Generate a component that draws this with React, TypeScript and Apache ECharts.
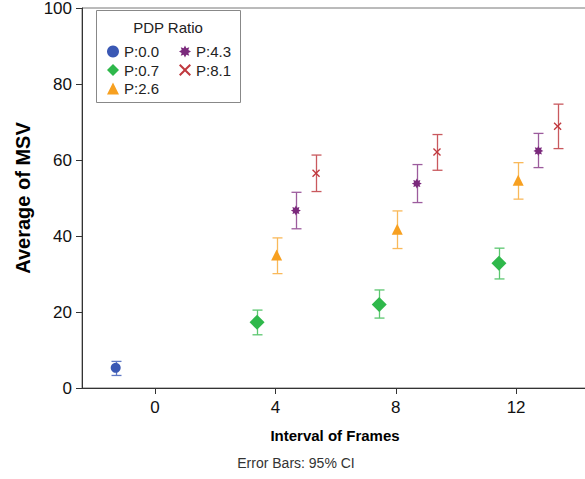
import React, { useEffect, useRef } from "react";
import * as echarts from "echarts";

// [x, mean, lower CI, upper CI]
const p00: number[][] = [[-1.31, 5.3, 3.3, 7.0]];
const p07: number[][] = [
  [3.39, 17.3, 14.0, 20.5],
  [7.45, 22.0, 18.4, 25.8],
  [11.43, 32.8, 28.7, 36.8],
];
const p26: number[][] = [
  [4.04, 35.0, 30.1, 39.5],
  [8.05, 41.8, 36.7, 46.6],
  [12.07, 54.7, 49.7, 59.3],
];
const p43: number[][] = [
  [4.68, 46.7, 41.9, 51.5],
  [8.7, 53.8, 48.8, 58.8],
  [12.74, 62.4, 58.0, 67.0],
];
const p81: number[][] = [
  [5.35, 56.5, 51.7, 61.3],
  [9.37, 62.1, 57.3, 66.7],
  [13.38, 68.9, 63.0, 74.7],
];
const xTicks = [0, 4, 8, 12];
const yMin = 0;
const yMax = 100;
const yStep = 20;
const xMin = -2.43;
const xMax = 14.39;

const STAR =
  "path://M20,10 L15.54,12.30 L17.07,17.07 L12.30,15.54 L10,20 L7.70,15.54 L2.93,17.07 L4.46,12.30 L0,10 L4.46,7.70 L2.93,2.93 L7.70,4.46 L10,0 L12.30,4.46 L17.07,2.93 L15.54,7.70 Z";
const CROSS =
  "path://M0,1.2L1.2,0L5,3.8L8.8,0L10,1.2L6.2,5L10,8.8L8.8,10L5,6.2L1.2,10L0,8.8L3.8,5Z";

const groups = [
  { name: "P:0.0", data: p00, color: "#3a58b4", bar: "#5f78c4", symbol: "circle", size: 10 },
  { name: "P:0.7", data: p07, color: "#2fb84b", bar: "#5cc770", symbol: "diamond", size: 15 },
  { name: "P:2.6", data: p26, color: "#f7a020", bar: "#f9b95a", symbol: "triangle", size: 11 },
  { name: "P:4.3", data: p43, color: "#7b2a7c", bar: "#9c5c9d", symbol: STAR, size: 10 },
  { name: "P:8.1", data: p81, color: "#c0393f", bar: "#c9595e", symbol: CROSS, size: 8 },
];

const FONT = "Arial, 'Liberation Sans', sans-serif";

export default function App() {
  const ref = useRef<HTMLDivElement>(null);
  useEffect(() => {
    if (!ref.current) return;
    const chart = echarts.init(ref.current, undefined, { renderer: "svg" });
    const series: any[] = [];
    groups.forEach((g) => {
      series.push({
        type: "custom",
        name: g.name + " CI",
        data: g.data.map((d) => [d[0], d[2], d[3]]),
        encode: { x: 0, y: [1, 2] },
        z: 2,
        renderItem: (params: any, api: any) => {
          const lo = api.coord([api.value(0), api.value(1)]);
          const hi = api.coord([api.value(0), api.value(2)]);
          const x = Math.round(lo[0]) + 0.5;
          const cap = 5;
          const style = { stroke: g.bar, lineWidth: 1.3 };
          return {
            type: "group",
            children: [
              { type: "line", shape: { x1: x, y1: lo[1], x2: x, y2: hi[1] }, style },
              { type: "line", shape: { x1: x - cap, y1: lo[1], x2: x + cap, y2: lo[1] }, style },
              { type: "line", shape: { x1: x - cap, y1: hi[1], x2: x + cap, y2: hi[1] }, style },
            ],
          };
        },
      });
      series.push({
        type: "scatter",
        name: g.name,
        data: g.data.map((d) => [d[0], d[1]]),
        symbol: g.symbol,
        symbolSize: g.size,
        itemStyle: { color: g.color, opacity: 1 },
        z: 3,
      });
    });
    const legendCommon = {
      orient: "vertical",
      padding: 0,
      itemWidth: 12,
      itemHeight: 12,
      itemGap: 3.5,
      z: 20,
      textStyle: { fontSize: 15, fontFamily: FONT, color: "#222" },
      selectedMode: false,
    };
    chart.setOption({
      animation: false,
      grid: {
        left: 82,
        width: 506,
        top: 8,
        bottom: 91,
        show: true,
        borderColor: "#777",
        borderWidth: 1,
        outerBoundsMode: "none",
        containLabel: false,
      },
      xAxis: {
        type: "value",
        min: xMin,
        max: xMax,
        name: "Interval of Frames",
        nameLocation: "middle",
        nameGap: 40,
        nameTextStyle: { fontSize: 15, fontWeight: "bold", fontFamily: FONT, color: "#000" },
        axisLine: { show: true, onZero: false, lineStyle: { color: "#333", width: 1 } },
        axisTick: { show: true, length: 6, lineStyle: { color: "#333" }, customValues: xTicks },
        axisLabel: { fontSize: 17, fontFamily: FONT, color: "#111", margin: 11, customValues: xTicks },
        splitLine: { show: false },
      },
      yAxis: {
        type: "value",
        min: yMin,
        max: yMax,
        interval: yStep,
        name: "Average of MSV",
        nameLocation: "middle",
        nameGap: 46,
        nameTextStyle: { fontSize: 20, fontWeight: "bold", fontFamily: FONT, color: "#000" },
        axisLine: { show: true, onZero: false, lineStyle: { color: "#333", width: 1 } },
        axisTick: { show: true, length: 6, lineStyle: { color: "#333" } },
        axisLabel: { fontSize: 17, lineHeight: 14, fontFamily: FONT, color: "#111", margin: 10 },
        splitLine: { show: false },
      },
      legend: [
        { ...legendCommon, data: ["P:0.0", "P:0.7", "P:2.6"], left: 107, top: 44 },
        { ...legendCommon, data: ["P:4.3", "P:8.1"], left: 179, top: 44 },
      ],
      graphic: [
        {
          type: "rect",
          shape: { x: 96.5, y: 10.5, width: 144, height: 92 },
          style: { fill: "none", stroke: "#888", lineWidth: 1 },
        },
        {
          type: "text",
          x: 168,
          y: 27,
          style: {
            text: "PDP Ratio",
            fontSize: 15,
            fontFamily: FONT,
            fill: "#222",
            align: "center",
            verticalAlign: "middle",
          },
        },
        {
          type: "text",
          x: 296,
          y: 463,
          style: {
            text: "Error Bars: 95% CI",
            fontSize: 14,
            fontFamily: FONT,
            fill: "#333",
            align: "center",
            verticalAlign: "middle",
          },
        },
      ],
      series,
    });
    return () => chart.dispose();
  }, []);
  return <div ref={ref} style={{ width: 585, height: 479, position: "absolute", left: 0, top: 0 }} />;
}
